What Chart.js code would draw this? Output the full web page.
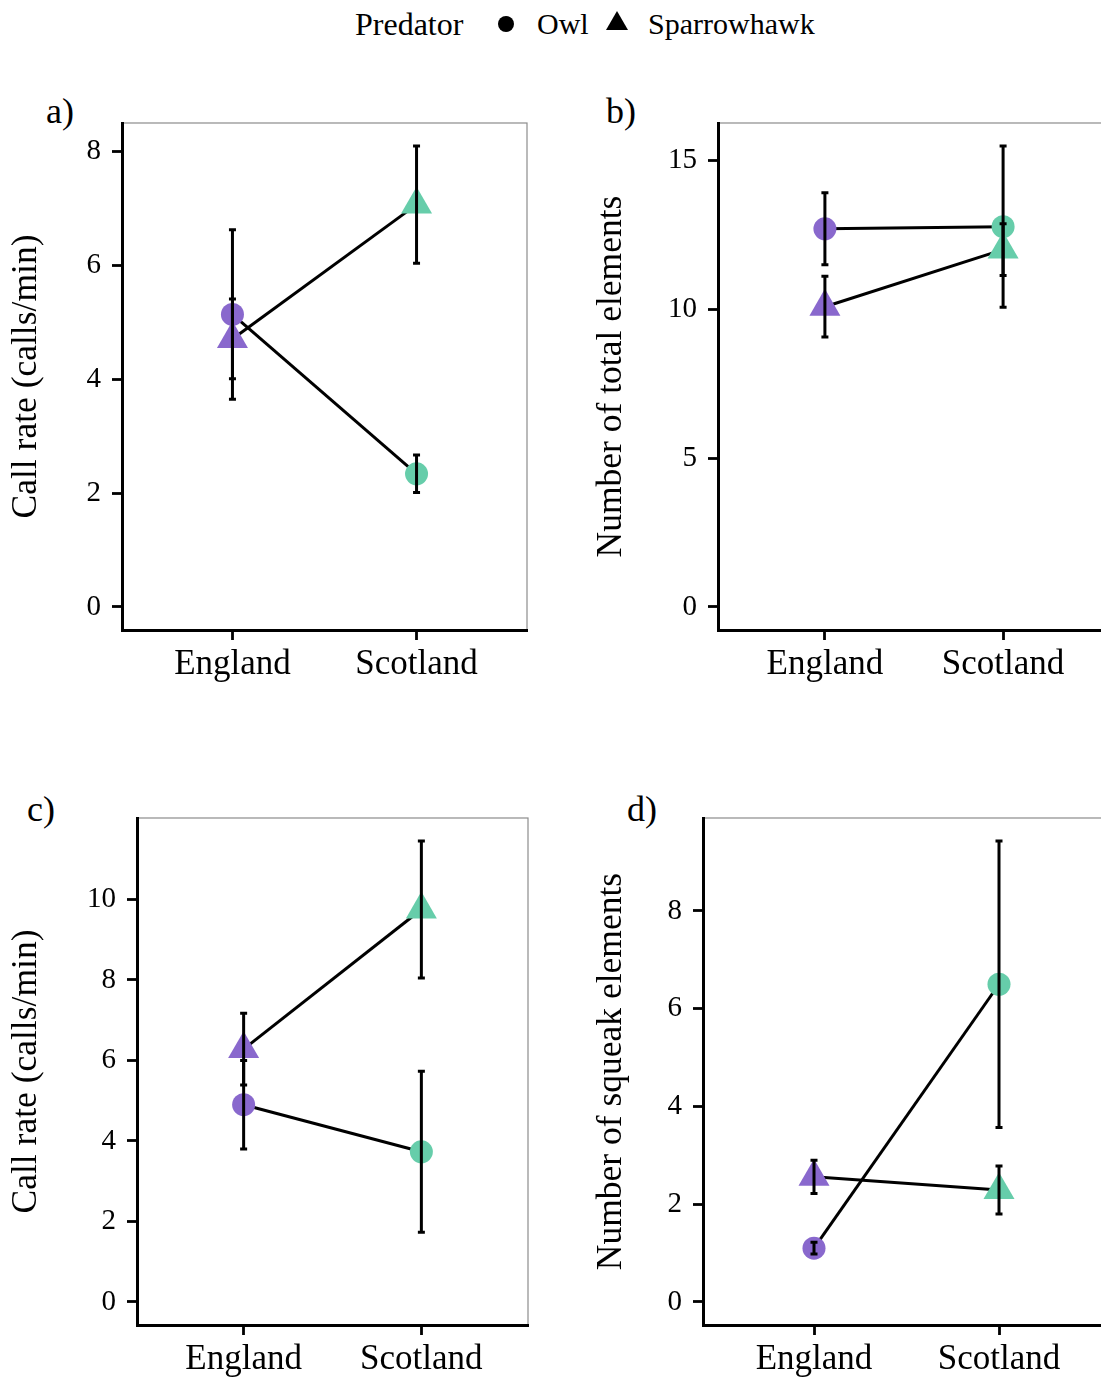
<!DOCTYPE html>
<html>
<head>
<meta charset="utf-8">
<title>Alarm calls by predator and region</title>
<script src="https://cdn.jsdelivr.net/npm/chart.js@4.4.1/dist/chart.umd.min.js"></script>
<style>
  html { overflow: hidden; }
  html, body { margin: 0; padding: 0; background: #fff; }
  body {
    width: 1160px; height: 1378px; position: relative;
    font-family: "Liberation Serif", "Times New Roman", serif; color: #000;
  }
  .panel { position: absolute; width: 600px; height: 623px; }
  .panel canvas { display: block; width: 600px; height: 623px; }
  .txt { position: absolute; line-height: 1; white-space: nowrap; }
  .key-title { font-size: 32px; }
  .key-label { font-size: 30px; }
  .tag { font-size: 36px; }
  .dot { position: absolute; width: 16px; height: 16px; border-radius: 50%; background: #000; }
  .tri { position: absolute; width: 22px; height: 19px; background: #000;
         clip-path: polygon(50% 0, 100% 100%, 0 100%); }
</style>
</head>
<body>

<!-- shared key -->
<div class="txt key-title" style="left:355px; top:7.5px;">Predator</div>
<div class="dot" style="left:498px; top:16px;"></div>
<div class="txt key-label" style="left:537px; top:9.2px;">Owl</div>
<div class="tri" style="left:606px; top:11px;"></div>
<div class="txt key-label" style="left:648px; top:9.2px;">Sparrowhawk</div>

<!-- panel tags -->
<div class="txt tag" style="left:46px; top:93px;">a)</div>
<div class="txt tag" style="left:606px; top:93px;">b)</div>
<div class="txt tag" style="left:27px; top:791px;">c)</div>
<div class="txt tag" style="left:627px; top:791px;">d)</div>

<div class="panel" style="left:0; top:60px;"><canvas id="panelA" width="600" height="623"></canvas></div>
<div class="panel" style="left:560px; top:60px;"><canvas id="panelB" width="600" height="623"></canvas></div>
<div class="panel" style="left:0; top:755px;"><canvas id="panelC" width="600" height="623"></canvas></div>
<div class="panel" style="left:560px; top:755px;"><canvas id="panelD" width="600" height="623"></canvas></div>

<script>
// ---- data -------------------------------------------------------------
const countries = ['England', 'Scotland'];

// a) call rate
const rateA_owl     = [5.14, 2.34];
const rateA_owlSE   = [1.49, 0.33];
const rateA_hawk    = [4.71, 7.07];
const rateA_hawkSE  = [0.70, 1.03];
const ticksA        = [0, 2, 4, 6, 8];

// b) total elements
const totalB_owl    = [12.71, 12.78];
const totalB_owlSE  = [1.21, 2.71];
const totalB_hawk   = [10.09, 12.01];
const totalB_hawkSE = [1.02, 0.87];
const ticksB        = [0, 5, 10, 15];

// c) call rate
const rateC_owl     = [4.90, 3.73];
const rateC_owlSE   = [1.10, 2.00];
const rateC_hawk    = [6.28, 9.75];
const rateC_hawkSE  = [0.89, 1.70];
const ticksC        = [0, 2, 4, 6, 8, 10];

// d) squeak elements
const squeakD_owl    = [1.10, 6.50];
const squeakD_owlSE  = [0.12, 2.93];
const squeakD_hawk   = [2.56, 2.29];
const squeakD_hawkSE = [0.34, 0.49];
const ticksD         = [0, 2, 4, 6, 8];

// ---- styling ----------------------------------------------------------
const FONT = '"Liberation Serif", "Times New Roman", serif';
const countryColors = ['#8968CD', '#66CDAA'];   // England, Scotland
const INK = '#000';

// thin grey frame behind the black axis lines
const panelFrame = {
  id: 'panelFrame',
  beforeDraw(chart) {
    const { ctx, chartArea: a } = chart;
    ctx.save();
    ctx.strokeStyle = '#8c8c8c';
    ctx.lineWidth = 1.2;
    ctx.strokeRect(a.left, a.top, a.right - a.left, a.bottom - a.top);
    ctx.restore();
  }
};

// mean +/- SE whiskers, drawn over the markers
const errorBars = {
  id: 'errorBars',
  afterDatasetsDraw(chart) {
    const { ctx, scales: { x, y } } = chart;
    ctx.save();
    ctx.strokeStyle = INK;
    ctx.lineWidth = 3;
    chart.data.datasets.forEach(ds => {
      if (!ds.errors) return;
      ds.data.forEach((p, i) => {
        const px = x.getPixelForValue(p.x);
        const hi = y.getPixelForValue(p.y + ds.errors[i]);
        const lo = y.getPixelForValue(p.y - ds.errors[i]);
        ctx.beginPath();
        ctx.moveTo(px, hi); ctx.lineTo(px, lo);
        ctx.moveTo(px - 3.5, hi); ctx.lineTo(px + 3.5, hi);
        ctx.moveTo(px - 3.5, lo); ctx.lineTo(px + 3.5, lo);
        ctx.stroke();
      });
    });
    ctx.restore();
  }
};

const toPoints = vals => vals.map((v, i) => ({ x: i + 1, y: v }));

function renderPanel(canvasId, p) {
  const canvas = document.getElementById(canvasId);

  // y range: from zero up to the highest whisker, padded 5% either side
  const tops = p.owl.map((v, i) => v + p.owlSE[i])
    .concat(p.hawk.map((v, i) => v + p.hawkSE[i]));
  const hi = Math.max(...tops);
  const span = hi - 0;

  const series = [
    { vals: p.owl,  se: p.owlSE,  style: 'circle',   r: 11.5 },
    { vals: p.hawk, se: p.hawkSE, style: 'triangle', r: 17.9 }
  ];

  const datasets = [];
  series.forEach(s => {
    datasets.push({
      data: toPoints(s.vals),
      borderColor: INK,
      borderWidth: 3,
      pointRadius: 0,
      fill: false,
      tension: 0,
      order: 3
    });
    datasets.push({
      data: toPoints(s.vals),
      showLine: false,
      pointStyle: s.style,
      pointRadius: s.r,
      pointBackgroundColor: countryColors,
      pointBorderWidth: 0,
      pointBorderColor: 'rgba(0,0,0,0)',
      errors: s.se,
      order: 1
    });
  });

  return new Chart(canvas, {
    type: 'line',
    data: { datasets },
    plugins: [panelFrame, errorBars],
    options: {
      responsive: false,
      animation: false,
      events: [],
      layout: { padding: { left: 0, top: 63, right: p.padRight, bottom: 0 } },
      plugins: { legend: { display: false }, tooltip: { enabled: false } },
      scales: {
        x: {
          type: 'linear',
          min: 0.4,
          max: 2.6,
          afterBuildTicks: s => { s.ticks = countries.map((c, i) => ({ value: i + 1 })); },
          afterFit: s => { s.height = 53; s.paddingLeft = 0; s.paddingRight = 0; },
          ticks: {
            autoSkip: false, maxRotation: 0, minRotation: 0,
            padding: 7, color: INK,
            font: { family: FONT, size: 35, lineHeight: 1 },
            callback: (v, i) => countries[i]
          },
          grid: { drawOnChartArea: false, drawTicks: true, tickLength: 10, tickWidth: 2.8, tickColor: INK },
          border: { display: true, color: INK, width: 3 }
        },
        y: {
          type: 'linear',
          min: -0.05 * span,
          max: hi + 0.05 * span,
          afterBuildTicks: s => { s.ticks = p.ticks.map(v => ({ value: v })); },
          afterFit: s => { s.width = p.yWidth; s.paddingTop = 0; s.paddingBottom = 0; },
          ticks: {
            padding: 11, color: INK,
            font: { family: FONT, size: 29, lineHeight: 1 }
          },
          grid: { drawOnChartArea: false, drawTicks: true, tickLength: 10, tickWidth: 2.8, tickColor: INK },
          border: { display: true, color: INK, width: 3 },
          title: {
            display: true,
            text: p.title,
            color: INK,
            padding: { top: p.titlePad, bottom: 0 },
            font: { family: FONT, size: 35.5, lineHeight: 1 }
          }
        }
      }
    }
  });
}

renderPanel('panelA', {
  owl: rateA_owl, owlSE: rateA_owlSE, hawk: rateA_hawk, hawkSE: rateA_hawkSE,
  ticks: ticksA, title: 'Call rate (calls/min)', yWidth: 122, padRight: 73, titlePad: 9
});
renderPanel('panelB', {
  owl: totalB_owl, owlSE: totalB_owlSE, hawk: totalB_hawk, hawkSE: totalB_hawkSE,
  ticks: ticksB, title: 'Number of total elements', yWidth: 158, padRight: 50, titlePad: 34
});
renderPanel('panelC', {
  owl: rateC_owl, owlSE: rateC_owlSE, hawk: rateC_hawk, hawkSE: rateC_hawkSE,
  ticks: ticksC, title: 'Call rate (calls/min)', yWidth: 137, padRight: 72, titlePad: 9
});
renderPanel('panelD', {
  owl: squeakD_owl, owlSE: squeakD_owlSE, hawk: squeakD_hawk, hawkSE: squeakD_hawkSE,
  ticks: ticksD, title: 'Number of squeak elements', yWidth: 143, padRight: 50, titlePad: 34
});
</script>
</body>
</html>
